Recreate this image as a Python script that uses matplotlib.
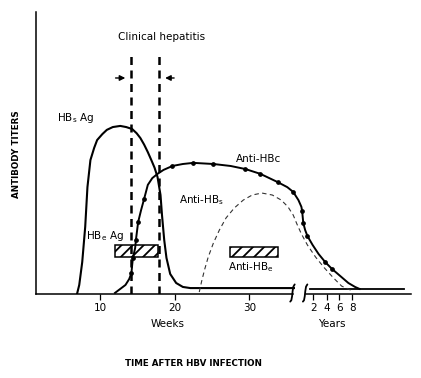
import matplotlib
matplotlib.use("Agg")
import matplotlib.pyplot as plt

plt.rcParams["font.family"] = ["DejaVu Sans"]
plt.rcParams["mathtext.fontset"] = "dejavusans"
plt.rcParams["hatch.linewidth"] = 1.3

# x in weeks after infection (after the break: years, placed on the same axis), y = relative titer (0-100)
hbsag_x = [6.9, 7.2, 7.6, 8.0, 8.3, 8.7, 9.2, 9.6, 10.3, 10.9, 11.7, 12.7, 13.5, 14.3, 14.9, 15.4,
           15.9, 16.4, 16.9, 17.3, 17.7, 18.1, 18.3, 18.6, 18.9, 19.4, 20.2, 21.1, 22.1, 36.0]
hbsag_y = [0.0, 3.2, 11.3, 23.8, 37.9, 47.5, 51.8, 54.6, 56.7, 58.2, 59.2, 59.6, 59.2, 58.5, 57.0, 55.3,
           53.0, 50.3, 47.3, 44.8, 41.5, 35.1, 28.0, 19.1, 12.8, 7.1, 3.9, 2.5, 2.1, 2.1]
tail_x = [38.1, 50.7]
tail_y = [1.8, 1.8]

anti_hbc_x = [12.0, 12.7, 13.4, 13.9, 14.2, 14.3, 14.4, 14.7, 14.8, 15.1, 15.5, 15.9, 16.4, 17.0,
              17.7, 18.5, 19.7, 21.1, 22.5, 25.2, 27.5, 29.5, 31.5, 33.8, 35.1, 35.9, 36.6, 37.0,
              37.1, 37.25, 37.5, 37.8, 38.5, 39.3, 40.2, 41.1, 42.2, 43.3, 44.2, 44.8]
anti_hbc_y = [0.4, 1.8, 3.2, 5.3, 7.4, 10.3, 12.8, 16.3, 19.1, 25.5, 29.8, 33.7, 38.7, 41.1,
              42.6, 44.0, 45.4, 46.1, 46.5, 46.1, 45.4, 44.3, 42.6, 39.7, 37.9, 36.2, 33.3, 30.9,
              29.4, 25.2, 22.7, 20.6, 17.4, 14.2, 11.3, 8.9, 6.4, 3.9, 2.5, 1.8]
hbc_dots_x = [14.2, 14.4, 14.8, 15.1, 15.9, 19.7, 22.5, 25.2, 29.5, 31.5, 33.8, 35.9, 37.1,
              37.25, 37.8, 40.2, 41.1]
hbc_dots_y = [7.4, 12.8, 19.1, 25.5, 33.7, 45.4, 46.5, 46.1, 44.3, 42.6, 39.7, 36.2, 29.4,
              25.2, 20.6, 11.3, 8.9]

anti_hbs_x = [23.3, 23.6, 24.0, 24.5, 25.2, 26.0, 26.9, 28.0, 29.2, 30.4, 31.7, 33.1, 34.3,
              35.2, 35.9, 36.4, 37.0, 37.8, 38.9, 40.1, 41.3, 42.4, 43.6]
anti_hbs_y = [0.7, 4.3, 8.5, 13.1, 18.1, 22.7, 27.0, 30.5, 33.3, 35.1, 35.8, 35.1, 33.3,
              30.9, 28.0, 24.8, 21.3, 17.4, 13.1, 9.2, 5.7, 2.8, 1.4]

# hatched bars: (start, end, low, high)
hbeag_bar = (12.0, 17.8, 13.1, 17.4)
anti_hbe_bar = (27.45, 33.8, 13.1, 16.7)

hepatitis_start, hepatitis_end = 14.2, 17.9
week_ticks = [10, 20, 30]
year_ticks = [2, 4, 6, 8]
year_pos = [38.6, 40.4, 42.1, 43.8]
break_left, break_right = 36.0, 37.6

fig = plt.figure(figsize=(4.21, 3.78), dpi=100)
ax = fig.add_axes([36 / 421, 84 / 378, 375 / 421, 282 / 378])
ax.set_xlim(1.4, 51.7)
ax.set_ylim(0, 100)

for s in ["top", "right", "bottom"]:
    ax.spines[s].set_visible(False)
ax.spines["left"].set_linewidth(1.1)
ax.set_yticks([])

# x axis drawn in two pieces with a break
ax.plot([1.4, break_left - 0.1], [0, 0], color="black", lw=1.1, clip_on=False)
ax.plot([break_right, 51.7], [0, 0], color="black", lw=1.1, clip_on=False)
for bx in [break_left - 0.2, break_right - 0.1]:
    ax.plot([bx + 0.3, bx + 0.12, bx + 0.02, bx - 0.05, bx - 0.15, bx - 0.3],
            [3.4, 2.6, 1.0, -0.8, -2.2, -2.7],
            color="black", lw=1.3, clip_on=False, solid_capstyle="round")

ax.set_xticks(week_ticks + year_pos)
ax.set_xticklabels([str(v) for v in week_ticks + year_ticks])
ax.tick_params(axis="x", length=4.5, width=0.9, pad=2, labelsize=7.5)

# curves
ax.plot(hbsag_x, hbsag_y, color="black", lw=1.5, solid_joinstyle="round")
ax.plot(tail_x, tail_y, color="black", lw=1.3)
ax.plot(anti_hbc_x, anti_hbc_y, color="black", lw=1.4, solid_joinstyle="round")
ax.plot(hbc_dots_x, hbc_dots_y, "o", color="black", ms=2.4)
ax.plot(anti_hbs_x, anti_hbs_y, color="#333333", lw=0.8, dashes=(4, 3))

for b in [hbeag_bar, anti_hbe_bar]:
    ax.barh((b[2] + b[3]) / 2, b[1] - b[0], left=b[0], height=b[3] - b[2],
            facecolor="white", edgecolor="black", hatch="///", lw=1.1)

# clinical hepatitis window
for xv in [hepatitis_start, hepatitis_end]:
    ax.plot([xv, xv], [0, 85.8], color="black", lw=1.8, dashes=(3.2, 2.2))
ax.annotate("", xy=(hepatitis_start - 0.45, 76.6), xytext=(11.7, 76.6),
            arrowprops=dict(arrowstyle="-|>", color="black", lw=1.0, mutation_scale=8))
ax.annotate("", xy=(hepatitis_end + 0.45, 76.6), xytext=(20.3, 76.6),
            arrowprops=dict(arrowstyle="-|>", color="black", lw=1.0, mutation_scale=8))
ax.text(18.2, 91.1, "Clinical hepatitis", ha="center", va="center", fontsize=7.5)

ax.text(4.2, 62.4, r"HB$_\mathrm{s}$ Ag", ha="left", va="center", fontsize=7.5)
ax.text(8.1, 20.6, r"HB$_\mathrm{e}$ Ag", ha="left", va="center", fontsize=7.5)
ax.text(28.2, 47.9, "Anti-HBc", ha="left", va="center", fontsize=7.5)
ax.text(20.6, 33.3, r"Anti-HB$_\mathrm{s}$", ha="left", va="center", fontsize=7.5)
ax.text(27.2, 9.6, r"Anti-HB$_\mathrm{e}$", ha="left", va="center", fontsize=7.5)

ax.text(19.1, -10.6, "Weeks", ha="center", va="center", fontsize=7.5, clip_on=False)
ax.text(41.1, -10.6, "Years", ha="center", va="center", fontsize=7.5, clip_on=False)

fig.text(193 / 421, 1 - 364 / 378, "TIME AFTER HBV INFECTION", ha="center", va="center",
         fontsize=6.3, fontweight="bold")
fig.text(17 / 421, 1 - 154 / 378, "ANTIBODY TITERS", ha="center", va="center",
         rotation=90, fontsize=6.3, fontweight="bold")

fig.savefig("out.png", dpi=100)
